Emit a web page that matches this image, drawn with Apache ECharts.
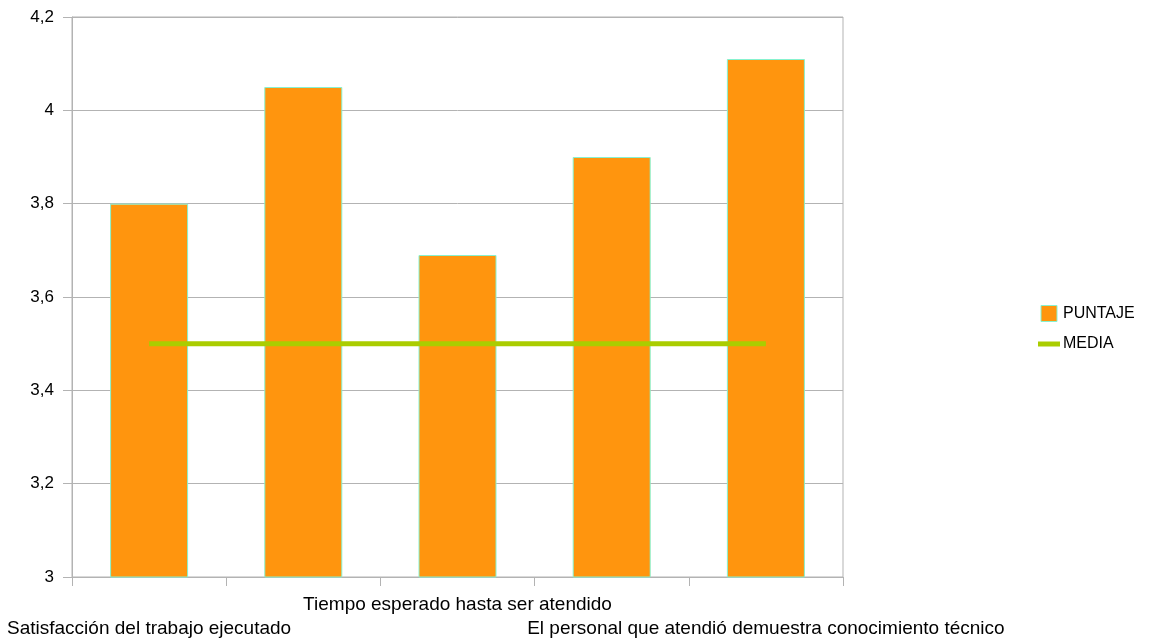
<!DOCTYPE html>
<html>
<head>
<meta charset="utf-8">
<script src="https://cdn.jsdelivr.net/npm/echarts@6/dist/echarts.min.js"></script>
<style>
  html, body { margin: 0; padding: 0; background: #ffffff; }
  #chart { width: 1149px; height: 644px; }
</style>
</head>
<body>
<div id="chart"></div>
<script>
// Survey items (labels of items 2 and 4 are not printed on the axis)
const categories = [
  'Satisfacción del trabajo ejecutado',
  '',
  'Tiempo esperado hasta ser atendido',
  '',
  'El personal que atendió demuestra conocimiento técnico'
];
const puntaje = [3.80, 4.05, 3.69, 3.90, 4.11];
const media = [3.5, 3.5, 3.5, 3.5, 3.5];
const yTicks = { min: 3, max: 4.2, step: 0.2 };

const FONT = 'Liberation Sans, Arial, sans-serif';
const GRID_GRAY = '#b3b3b3';
const BAR_FILL = '#ff950e';
const BAR_EDGE = '#86f2cf';
const LINE_GREEN = '#aacd00';

const chart = echarts.init(document.getElementById('chart'), null, { renderer: 'canvas' });

chart.setOption({
  animation: false,
  backgroundColor: '#ffffff',
  grid: {
    left: 72, right: 306, top: 17, bottom: 67,
    show: true, borderColor: GRID_GRAY, borderWidth: 1
  },
  legend: {
    orient: 'vertical',
    left: 1033,
    top: 300,
    itemWidth: 22,
    itemHeight: 16,
    itemGap: 14,
    symbolKeepAspect: true,
    textStyle: { fontFamily: FONT, fontSize: 16, color: '#000000', padding: [0, 0, 0, -2] },
    data: [
      {
        name: 'PUNTAJE',
        icon: 'path://M0,0H16V16H0Z',
        itemStyle: { color: BAR_FILL, borderColor: BAR_EDGE, borderWidth: 1 }
      },
      {
        name: 'MEDIA',
        icon: 'path://M0,0H22V5H0Z',
        itemStyle: { color: LINE_GREEN, borderWidth: 0 }
      }
    ]
  },
  xAxis: {
    type: 'category',
    data: categories,
    boundaryGap: true,
    axisLine: { show: true, lineStyle: { color: GRID_GRAY, width: 1 } },
    axisTick: { show: true, length: 9, lineStyle: { color: GRID_GRAY, width: 1 } },
    splitLine: { show: false },
    axisLabel: {
      interval: 0,
      margin: 16,
      color: '#000000',
      fontFamily: FONT,
      fontSize: 19,
      lineHeight: 24,
      // staggered labels: every other printed label drops to a second row
      formatter: function (value, index) {
        if (!value) return '';
        return (index % 4 === 0) ? '\n' + value : value;
      }
    }
  },
  yAxis: {
    type: 'value',
    min: yTicks.min,
    max: yTicks.max,
    interval: yTicks.step,
    axisLine: { show: true, lineStyle: { color: GRID_GRAY, width: 1 } },
    axisTick: { show: true, length: 9, lineStyle: { color: GRID_GRAY, width: 1 } },
    splitLine: { show: true, lineStyle: { color: GRID_GRAY, width: 1 } },
    axisLabel: {
      margin: 18,
      color: '#000000',
      fontFamily: FONT,
      fontSize: 17,
      formatter: function (v) { return String(+v.toFixed(1)).replace('.', ','); }
    }
  },
  series: [
    {
      name: 'PUNTAJE',
      type: 'bar',
      data: puntaje,
      barWidth: 78,
      itemStyle: { color: BAR_FILL, borderColor: BAR_EDGE, borderWidth: 1 }
    },
    {
      name: 'MEDIA',
      type: 'line',
      data: media,
      symbol: 'none',
      lineStyle: { color: LINE_GREEN, width: 5 },
      itemStyle: { color: LINE_GREEN },
      z: 3
    }
  ]
});
</script>
</body>
</html>
